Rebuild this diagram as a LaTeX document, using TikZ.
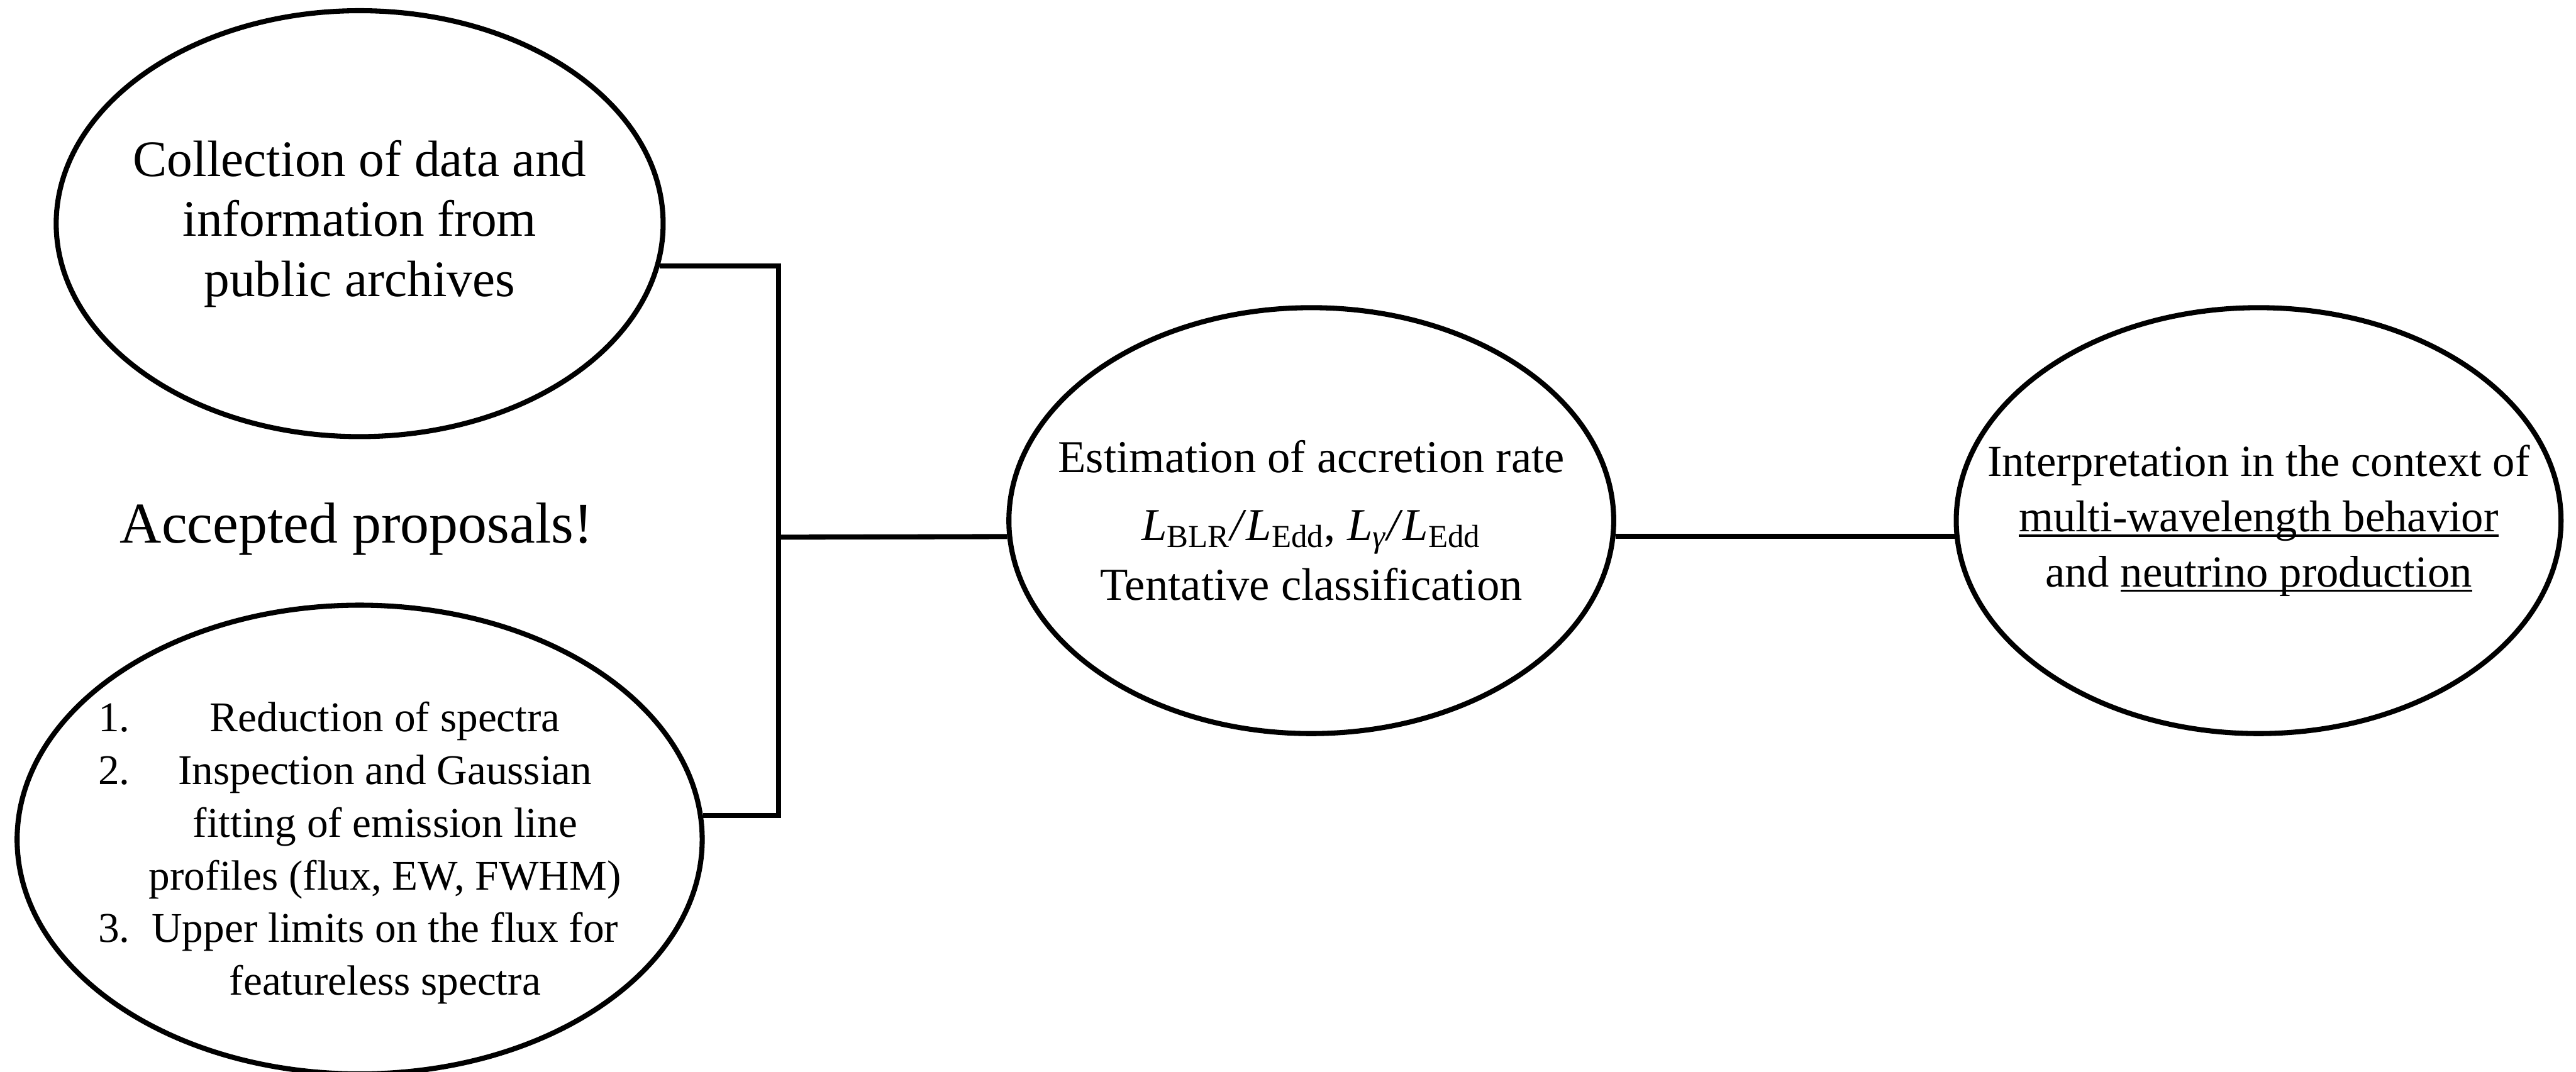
\documentclass[tikz,border=0pt]{standalone}
\usepackage{fontspec}
\setmainfont{Liberation Serif}
\usetikzlibrary{shapes.geometric,positioning}
\newcommand{\ulword}[1]{\setbox0=\hbox{#1}\rlap{\rule[-0.12em]{\wd0}{0.05em}}\box0}

\begin{document}
\begin{tikzpicture}[bubble/.style={ellipse,draw,line width=2.7pt,inner sep=0pt},
                    conn/.style={line width=2.7pt}]
\useasboundingbox (0,0) rectangle (48.13,20.03);

\begin{scope}[every node/.style={bubble}]
    \node[minimum width=11.34cm,minimum height=7.96cm] (A) at (6.72,15.85) {};
    \node[minimum width=12.80cm,minimum height=8.76cm] (B) at (6.72,4.34) {};
    \node[minimum width=11.30cm,minimum height=7.96cm] (C) at (24.50,10.30) {};
    \node[minimum width=11.30cm,minimum height=7.96cm] (D) at (42.20,10.30) {};
\end{scope}

\begin{scope}[every node/.style={align=center}]
    \node[font=\fontsize{27.2}{31.9}\selectfont] (Atxt) at (A)
        {Collection of data and\\information from\\public archives};
    \node[font=\fontsize{22.5}{28}\selectfont] (Btxt) at ([yshift=-0.25cm]B.center)
        {\begin{tabular}{@{}p{0.95cm}@{}c@{}}
         1. & Reduction of spectra\\
         2. & Inspection and Gaussian\\
            & fitting of emission line\\
            & profiles (flux, EW, FWHM)\\
         3. & Upper limits on the flux for\\
            & featureless spectra
         \end{tabular}};
    \node[font=\fontsize{24.3}{32}\selectfont] (Ctxt) at (C)
        {Estimation of accretion rate\\[4pt]
         \textit{L}\textsubscript{BLR}\textit{/}\textit{L}\textsubscript{Edd},
         \textit{L}\textsubscript{\textit{γ}}\textit{/}\textit{L}\textsubscript{Edd}\\
         Tentative classification};
    \node[font=\fontsize{23.6}{29.3}\selectfont] (Dtxt) at (D)
        {Interpretation in the context of\\
         \ulword{multi-wavelength behavior}\\
         and \ulword{neutrino production}};
    \node[font=\fontsize{30.7}{36}\selectfont,anchor=base] (acc) at (6.66,9.88)
        {Accepted proposals!};
\end{scope}

\coordinate (hub) at (14.55,9.99);
\draw[conn] (A.-8.75) -| (hub);
\draw[conn] (B.4.28) -| (hub);
\draw[conn] (hub) -- (C.183.12);
\draw[conn] (C.-3.12) -- (D.183.12);
\end{tikzpicture}
\end{document}
